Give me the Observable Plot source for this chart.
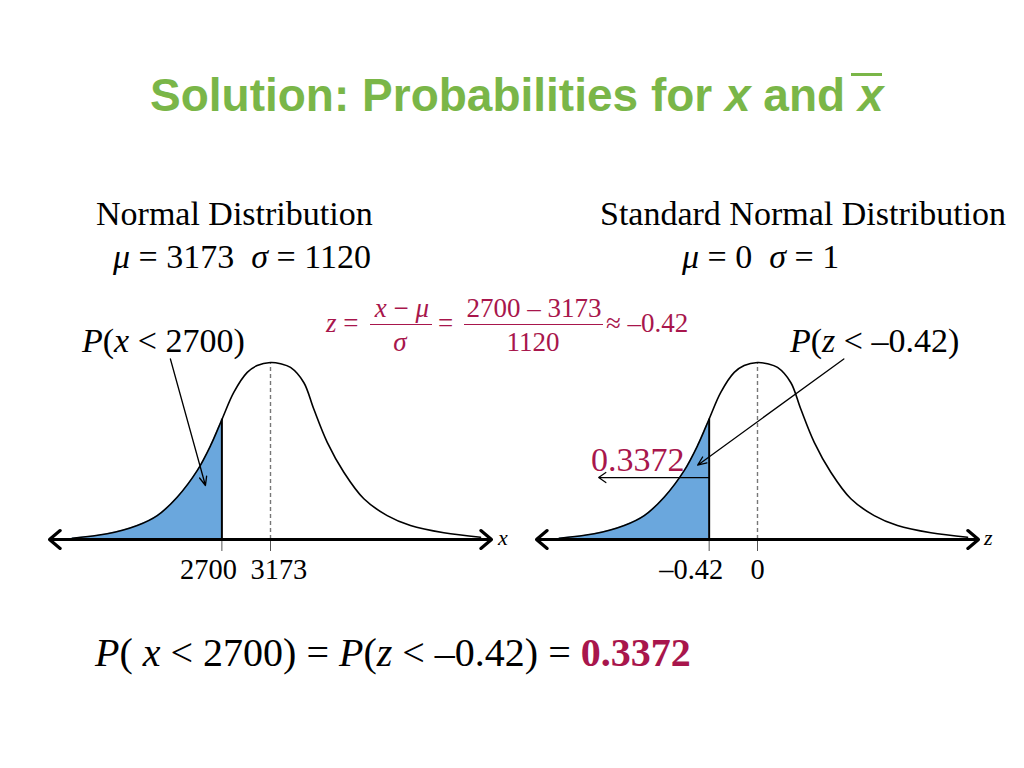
<!DOCTYPE html>
<html><head><meta charset="utf-8">
<script src="https://cdn.jsdelivr.net/npm/d3@7"></script>
<script src="https://cdn.jsdelivr.net/npm/@observablehq/plot@0.6"></script>
<style>
html,body{margin:0;padding:0;background:#fff;}
body{width:1024px;height:768px;overflow:hidden;position:relative;}
.t{position:absolute;white-space:pre;line-height:1;font-family:"Liberation Serif","Times New Roman",serif;color:#000;}
.plot{position:absolute;top:340px;}
.bar{position:absolute;}
</style></head><body>
<script>
// ---- values ----
const mu = 3173, sigma = 1120;          // left normal distribution
const cutoffX = 2700, cutoffZ = -0.42;   // cut-off values
const probability = "0.3372";
// bell-curve shape (z units, height relative to the peak)
const curveZ = [-1.723,-1.419,-1.158,-0.984,-0.811,-0.637,-0.521,-0.42,-0.319,-0.202,-0.116,0,0.087,0.174,0.289,0.376,0.493,0.637,0.811,1.014,1.216,1.506,1.825];
const curveH = [0.007,0.032,0.079,0.135,0.239,0.389,0.530,0.681,0.831,0.944,0.983,1,0.993,0.972,0.887,0.737,0.549,0.380,0.230,0.135,0.079,0.038,0.013];
const cutoffHeight = 0.68;
const axisExtent = 1.92; // axis half-length in standard deviations
const leftTicks = [2700, 3173], leftTickLabels = ["2700", "3173"];
const rightTicks = [-0.42, 0], rightTickLabels = ["\u20130.42", "0"];
// annotation arrows (data units)
const leftPointer = [{x1: 2199, y1: 1.02, x2: 2540, y2: 0.305}];
const rightPointer = [{x1: 0.75, y1: 1.02, x2: -0.52, y2: 0.42}];
const probPointer = [{x1: -0.42, x2: -1.38, y: 0.35}];

const BLUE = "#6aa7dd", RED = "#a8164c", GREEN = "#7ab648";
const SERIF = "Liberation Serif, Times New Roman, serif";

function chart({rows, center, unit, cutoff, ticks, labels, dxEnd, dxStart, pointer, prob}) {
  const dom = [center - axisExtent * unit, center + axisExtent * unit];
  const fillRows = rows.filter(d => d.x < cutoff).concat([{x: cutoff, h: cutoffHeight}]);
  const marks = [
    Plot.areaY(fillRows, {x: "x", y: "h", fill: BLUE, curve: "catmull-rom"}),
    Plot.ruleX([center], {y1: 0, y2: 1, stroke: "#777", strokeDasharray: "4,3", strokeWidth: 1.4}),
    Plot.axisX({ticks, tickSize: 12, tickFormat: () => "", stroke: "#555", strokeWidth: 1}),
    Plot.line(rows, {x: "x", y: "h", curve: "catmull-rom", stroke: "#000", strokeWidth: 1.6}),
    Plot.ruleX([cutoff], {y1: 0, y2: cutoffHeight, stroke: "#000", strokeWidth: 2}),
    Plot.arrow(dom, {x1: center, x2: d => d, y1: 0, y2: 0, stroke: "#000", strokeWidth: 3.2, headLength: 6.5, headAngle: 80}),
    Plot.text([{v: ticks[0], s: labels[0]}], {x: "v", y: 0, text: "s", textAnchor: "end", dx: dxEnd, dy: 19, lineAnchor: "top", fontSize: 28.4, fill: "#000"}),
    Plot.text([{v: ticks[1], s: labels[1]}], {x: "v", y: 0, text: "s", textAnchor: "start", dx: dxStart, dy: 19, lineAnchor: "top", fontSize: 28.4, fill: "#000"}),
    Plot.arrow(pointer, {x1: "x1", y1: "y1", x2: "x2", y2: "y2", stroke: "#000", strokeWidth: 1.3, headLength: 11, headAngle: 45})
  ];
  if (prob) marks.push(Plot.arrow(prob, {x1: "x1", x2: "x2", y1: "y", y2: "y", stroke: "#000", strokeWidth: 1.2, headLength: 11, headAngle: 70}));
  return Plot.plot({
    width: 480, height: 260, marginLeft: 10, marginRight: 28, marginTop: 22, marginBottom: 61,
    x: {domain: dom, axis: null}, y: {domain: [0, 1], axis: null},
    style: {fontFamily: SERIF, background: "transparent", overflow: "visible"},
    marks
  });
}

const leftRows = curveZ.map((z, i) => ({x: mu + z * sigma, h: curveH[i]}));
const rightRows = curveZ.map((z, i) => ({x: z, h: curveH[i]}));

const left = chart({rows: leftRows, center: mu, unit: sigma, cutoff: cutoffX, ticks: leftTicks, labels: leftTickLabels, dxEnd: 15, dxStart: -20, pointer: leftPointer});
left.classList.add("plot"); left.style.left = "39px";
document.body.appendChild(left);
const right = chart({rows: rightRows, center: 0, unit: 1, cutoff: cutoffZ, ticks: rightTicks, labels: rightTickLabels, dxEnd: 14, dxStart: -7, pointer: rightPointer, prob: probPointer});
right.classList.add("plot"); right.style.left = "526px";
document.body.appendChild(right);

// ---- text ----
function put(html, x, base, size, o = {}) {
  const d = document.createElement("div");
  d.className = "t";
  d.innerHTML = html;
  d.style.fontSize = size + "px";
  d.style.left = x + "px";
  d.style.top = (base - 0.84 * size) + "px";
  if (o.color) d.style.color = o.color;
  if (o.family) d.style.fontFamily = o.family;
  if (o.weight) d.style.fontWeight = o.weight;
  if (o.mid) d.style.transform = "translateX(-50%)";
  document.body.appendChild(d);
  return d;
}
function bar(x1, x2, y, h, color) {
  const b = document.createElement("div");
  b.className = "bar";
  b.style.left = x1 + "px"; b.style.width = (x2 - x1) + "px"; b.style.top = y + "px";
  b.style.height = h + "px"; b.style.background = color;
  document.body.appendChild(b);
}

put('Solution: Probabilities for <i>x</i> and <i>x</i>', 150, 111, 46, {family: "Liberation Sans, Arial, sans-serif", weight: "bold", color: GREEN});
bar(851, 882, 73, 3, GREEN);

put("Normal Distribution", 96, 226, 34);
put(`<i>μ</i> = ${mu}  <i>σ</i> = ${sigma}`, 113, 269, 34);
put("Standard Normal Distribution", 600, 226, 34);
put("<i>μ</i> = 0  <i>σ</i> = 1", 682, 269, 34);

// formula
const F = 27;
put("<i>z</i> =", 326, 333, F, {color: RED});
put("<i>x</i> − <i>μ</i>", 402, 318, F, {color: RED, mid: true});
bar(370, 432, 324, 1.3, RED);
put("<i>σ</i>", 400, 352, F, {color: RED, mid: true});
put("=", 438, 333, F, {color: RED});
put(`${cutoffX} – ${mu}`, 534, 318, F, {color: RED, mid: true});
bar(464, 603, 324, 1.3, RED);
put(`${sigma}`, 533, 352, F, {color: RED, mid: true});
put("≈ –0.42", 606, 333, F, {color: RED});

put(`<i>P</i>(<i>x</i> &lt; ${cutoffX})`, 82, 353, 34);
put("<i>P</i>(<i>z</i> &lt; –0.42)", 790, 353, 34);
put(probability, 591, 472, 34, {color: RED});

put("<i>x</i>", 498, 545, 22);
put("<i>z</i>", 984, 545, 22);

put(`<i>P</i>( <i>x</i> &lt; ${cutoffX}) = <i>P</i>(<i>z</i> &lt; –0.42) = <b style="color:${RED}">${probability}</b>`, 95, 667, 40);
</script>
</body></html>
